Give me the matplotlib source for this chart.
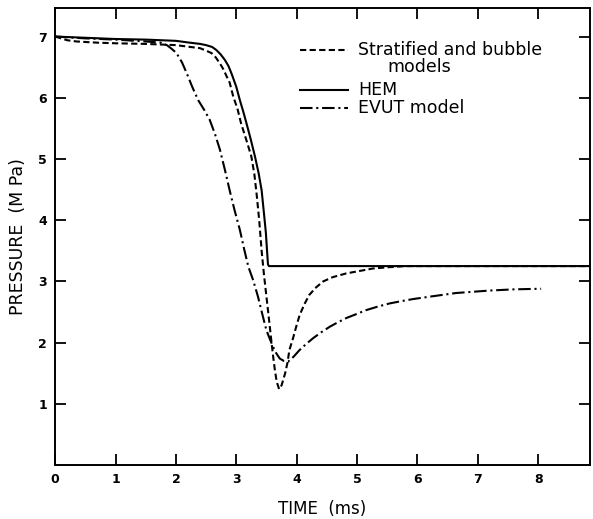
import numpy as np
import matplotlib
matplotlib.use("Agg")
import matplotlib.pyplot as plt

# HEM (solid)
hem_t = [0.0, 0.5, 1.0, 1.5, 2.0, 2.23, 2.4, 2.5, 2.6, 2.67, 2.74, 2.81, 2.87, 2.92,
         2.96, 3.0, 3.06, 3.12, 3.17, 3.24, 3.31, 3.37, 3.42, 3.46, 3.49, 3.51, 3.525, 3.54, 8.9]
hem_p = [7.0, 6.98, 6.96, 6.95, 6.93, 6.90, 6.88, 6.86, 6.83, 6.78, 6.71, 6.62, 6.52, 6.40,
         6.29, 6.18, 5.96, 5.76, 5.58, 5.32, 5.04, 4.77, 4.49, 4.10, 3.80, 3.50, 3.28, 3.25, 3.25]

# Stratified and bubble models (dashed)
strat_t = [0.0, 0.1, 0.2, 0.35, 0.7, 1.0, 1.5, 2.0, 2.4, 2.5, 2.59, 2.66, 2.73, 2.79, 2.84,
           2.89, 2.95, 3.02, 3.08, 3.17, 3.25, 3.30, 3.34, 3.38, 3.42, 3.46, 3.50, 3.54,
           3.58, 3.61, 3.64, 3.67, 3.71, 3.75, 3.78, 3.81, 3.85, 3.88, 3.94, 3.99, 4.05, 4.13,
           4.21, 4.32, 4.44, 4.6, 4.82, 5.04, 5.26, 5.5, 5.8, 8.9]
strat_p = [7.0, 6.97, 6.94, 6.92, 6.90, 6.89, 6.88, 6.86, 6.81, 6.77, 6.73, 6.66, 6.56, 6.46, 6.35,
           6.25, 6.02, 5.82, 5.58, 5.30, 5.04, 4.75, 4.40, 4.00, 3.50, 3.10, 2.75, 2.40,
           2.04, 1.78, 1.55, 1.36, 1.24, 1.30, 1.40, 1.50, 1.68, 1.88, 2.07, 2.25, 2.45, 2.63,
           2.78, 2.90, 3.00, 3.07, 3.13, 3.17, 3.21, 3.23, 3.25, 3.25]

# EVUT model (dash-dot)
evut_t = [0.0, 0.5, 1.0, 1.5, 1.75, 1.85, 1.93, 2.01, 2.1, 2.18, 2.27, 2.37, 2.47, 2.56, 2.65,
          2.73, 2.81, 2.89, 2.97, 3.06, 3.13, 3.20, 3.28, 3.36, 3.43, 3.50, 3.56, 3.61, 3.66,
          3.72, 3.79, 3.86, 3.95, 4.05, 4.15, 4.27, 4.41, 4.55, 4.68, 4.82, 5.0, 5.15, 5.35,
          5.54, 5.75, 5.92, 6.2, 6.64, 7.19, 7.6, 8.05]
evut_p = [7.0, 6.97, 6.95, 6.92, 6.90, 6.86, 6.80, 6.73, 6.58, 6.40, 6.18, 5.96, 5.80, 5.64, 5.40,
          5.15, 4.83, 4.49, 4.17, 3.84, 3.53, 3.24, 3.02, 2.75, 2.47, 2.20, 2.05, 1.93, 1.83,
          1.74, 1.70, 1.69, 1.77, 1.88, 1.97, 2.07, 2.17, 2.26, 2.33, 2.40, 2.47, 2.53, 2.59,
          2.64, 2.68, 2.71, 2.75, 2.81, 2.85, 2.87, 2.88]

x_ticks = [0, 1, 2, 3, 4, 5, 6, 7, 8]
y_ticks = [1, 2, 3, 4, 5, 6, 7]
legend_labels = ["Stratified and bubble", "models", "HEM", "EVUT model"]

dashed = (0, (3, 1.6))
dashdot = (0, (6, 1.8, 1, 1.8))

fig = plt.figure(figsize=(5.93, 5.19), dpi=100)
ax = fig.add_axes([0.093, 0.104, 0.902, 0.881])

lw = 1.5
ax.plot(strat_t, strat_p, color="black", lw=lw, linestyle=dashed)
ax.plot(hem_t, hem_p, color="black", lw=lw, linestyle="-")
ax.plot(evut_t, evut_p, color="black", lw=lw, linestyle=dashdot)

ax.set_xlim(0, 8.86)
ax.set_ylim(0, 7.47)
ax.set_xticks(x_ticks)
ax.set_yticks(y_ticks)
ax.tick_params(direction="in", length=8, width=1.3, top=True, right=True,
               labelsize=9, pad=6)
for lab in ax.get_xticklabels() + ax.get_yticklabels():
    lab.set_fontweight("bold")
for s in ax.spines.values():
    s.set_linewidth(1.4)

ax.set_xlabel("TIME  (ms)", fontsize=12, labelpad=10)
ax.set_ylabel("PRESSURE  (M Pa)", fontsize=12.5, labelpad=8)

# legend drawn by hand so the two-line label sits like the original
x0, x1, xt = 0.458, 0.548, 0.566
rows = [0.908, 0.871, 0.821, 0.781]
ax.plot([x0, x1], [rows[0]] * 2, transform=ax.transAxes, color="black", lw=lw, linestyle=dashed)
ax.plot([x0, x1], [rows[2]] * 2, transform=ax.transAxes, color="black", lw=lw, linestyle="-")
ax.plot([x0, x1], [rows[3]] * 2, transform=ax.transAxes, color="black", lw=lw, linestyle=dashdot)
ax.text(xt, rows[0], legend_labels[0], transform=ax.transAxes, fontsize=12.5, va="center")
ax.text(xt + 0.055, rows[1], legend_labels[1], transform=ax.transAxes, fontsize=12.5, va="center")
ax.text(xt, rows[2], legend_labels[2], transform=ax.transAxes, fontsize=12.5, va="center")
ax.text(xt, rows[3], legend_labels[3], transform=ax.transAxes, fontsize=12.5, va="center")

fig.savefig("out.png", dpi=100)
